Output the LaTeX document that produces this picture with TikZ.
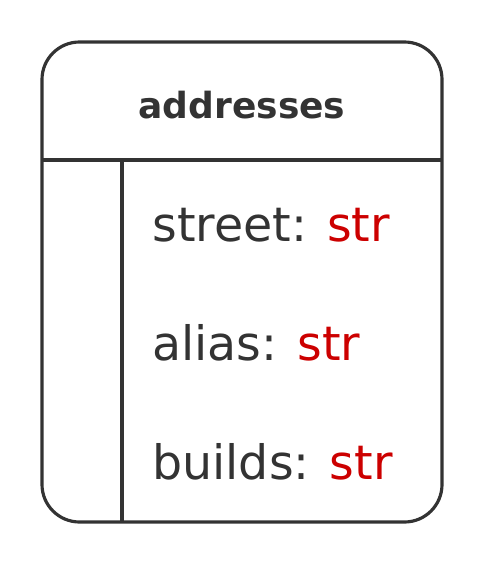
\documentclass[tikz,border=0pt]{standalone}
\usepackage{fontspec}
\setmainfont{DejaVu Sans}
\definecolor{inkgray}{HTML}{333333}
\definecolor{typered}{HTML}{CC0000}
\tikzset{
  field/.style={anchor=base west,inner sep=0pt,text=inkgray,font=\fontsize{27}{32}\selectfont},
  title/.style={anchor=base,inner sep=0pt,text=inkgray,font=\bfseries\fontsize{20.5}{24}\selectfont}
}
\begin{document}
\begin{tikzpicture}[x=0.02cm,y=-0.02cm]
                \useasboundingbox (0,0) rectangle (484,564);
                \draw [inkgray,line width=1.8pt,rounded corners=0.75cm] (42,42) rectangle (442,522);
                \draw [inkgray,line width=1.8pt] (42,160) -- (442,160);
                \draw [inkgray,line width=1.8pt] (122,160) -- (122,522);
                \node [title] (header) at (242,119) {addresses};
                \node [field] (street) at (152,241) {street: \textcolor{typered}{str}};
                \node [field] (alias) at (152,360) {alias: \textcolor{typered}{str}};
                \node [field] (builds) at (152,479) {builds: \textcolor{typered}{str}};
            \end{tikzpicture}
\end{document}
